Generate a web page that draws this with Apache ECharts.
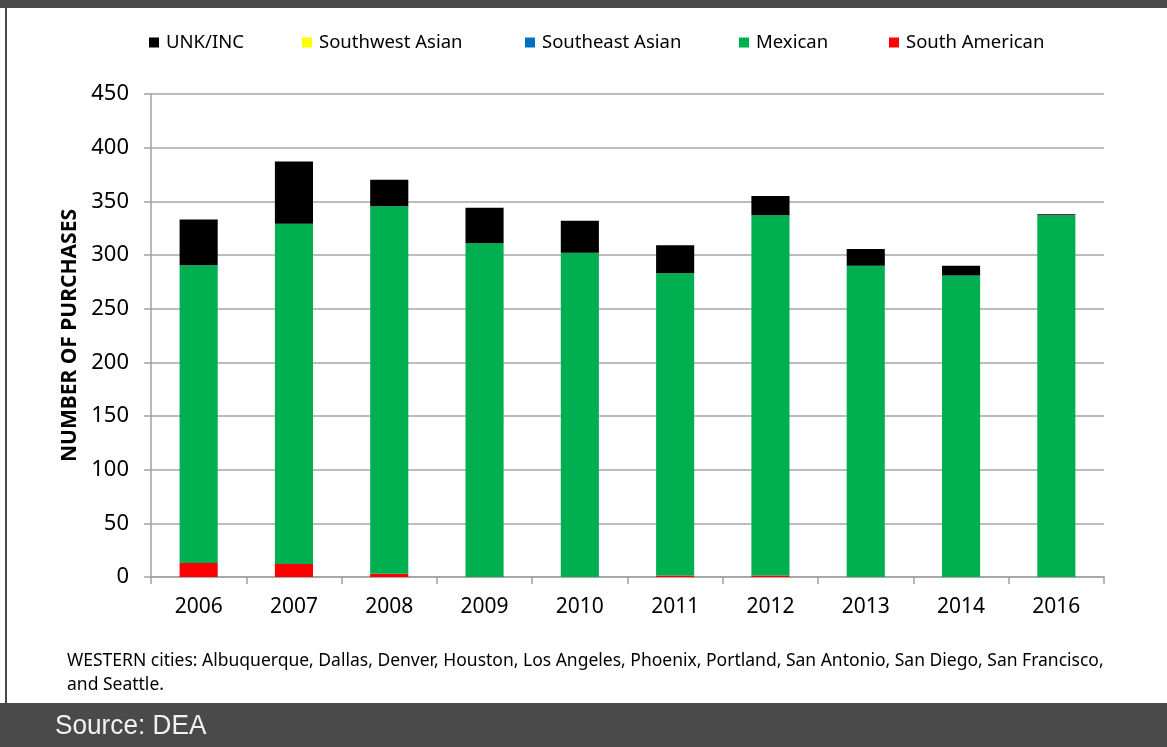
<!DOCTYPE html>
<html><head><meta charset="utf-8">
<script src="https://cdn.jsdelivr.net/npm/echarts@6/dist/echarts.min.js"></script>
<style>html,body{margin:0;padding:0;background:#fff;}#c{width:1167px;height:747px;}</style>
</head><body><div id="c"></div>
<script>
const years = ['2006','2007','2008','2009','2010','2011','2012','2013','2014','2016'];
const southAmerican = [13, 12, 3, 0, 0, 1.5, 1.5, 0, 0, 0];
const mexican = [277.5, 317, 342.5, 311, 302, 281.5, 335.5, 290, 281, 337];
const southeastAsian = [0, 0, 0, 0, 0, 0, 0, 0, 0, 0];
const southwestAsian = [0, 0, 0, 0, 0, 0, 0, 0, 0, 0];
const unkInc = [42.5, 58, 24.5, 33, 30, 26, 18, 15.5, 9, 1];
const yTicks = {min: 0, max: 450, interval: 50};
const footnote1 = 'WESTERN cities: Albuquerque, Dallas, Denver, Houston, Los Angeles, Phoenix, Portland, San Antonio, San Diego, San Francisco,';
const footnote2 = 'and Seattle.';
const sourceText = 'Source: DEA';

const FONT = '"Noto Sans", sans-serif';
const chart = echarts.init(document.getElementById('c'), null, {renderer: 'canvas'});

function mk(name, data, color) {
  return {name, type: 'bar', stack: 'tot', data, barWidth: '40%',
    itemStyle: {color}, emphasis: {disabled: true}};
}
function lg(name, left) {
  return {data: [name], left, top: 28, itemWidth: 10, itemHeight: 10, itemGap: 0,
    icon: 'rect', textStyle: {fontFamily: FONT, fontSize: 18.5, color: '#000', padding: [0,0,0,2]},
    selectedMode: false};
}
chart.setOption({
  animation: false,
  backgroundColor: '#fff',
  legend: [lg('UNK/INC', 144), lg('Southwest Asian', 297), lg('Southeast Asian', 520), lg('Mexican', 734), lg('South American', 884)],
  grid: {left: 151, right: 63, top: 94, bottom: 170, containLabel: false},
  xAxis: {type: 'category', data: years,
    axisLine: {lineStyle: {color: '#a0a0a0', width: 1.5}},
    axisTick: {show: true, length: 7, lineStyle: {color: '#a0a0a0', width: 1.5}},
    axisLabel: {fontFamily: FONT, fontSize: 21, color: '#000', margin: 20}},
  yAxis: {type: 'value', min: yTicks.min, max: yTicks.max, interval: yTicks.interval,
    name: 'NUMBER OF PURCHASES', nameLocation: 'middle', nameGap: 70,
    nameTextStyle: {fontFamily: FONT, fontSize: 21, fontWeight: 'bold', color: '#000'},
    axisLine: {show: true, lineStyle: {color: '#a0a0a0', width: 1.5}},
    axisTick: {show: true, length: 7, lineStyle: {color: '#a0a0a0', width: 1.5}},
    splitLine: {lineStyle: {color: '#a6a6a6', width: 1.5}},
    axisLabel: {fontFamily: FONT, fontSize: 22, color: '#000', margin: 22}},
  series: [
    mk('South American', southAmerican, '#ff0000'),
    mk('Mexican', mexican, '#00b050'),
    mk('Southeast Asian', southeastAsian, '#0070c0'),
    mk('Southwest Asian', southwestAsian, '#ffff00'),
    mk('UNK/INC', unkInc, '#000000')
  ],
  graphic: [
    {type: 'rect', left: 0, top: 0, shape: {width: 1167, height: 8}, style: {fill: '#4a4a4a'}, silent: true},
    {type: 'rect', left: 5, top: 0, shape: {width: 2, height: 747}, style: {fill: '#4a4a4a'}, silent: true},
    {type: 'rect', left: 0, top: 703, shape: {width: 1167, height: 44}, style: {fill: '#4a4a4a'}, silent: true},
    {type: 'text', x: 55, y: 713, scaleX: 0.97, style: {text: sourceText, fill: '#f2f2f2', font: '27px "Liberation Sans", Arial, sans-serif'}, silent: true},
    {type: 'text', left: 67, top: 652, style: {text: footnote1, fill: '#000', font: '17.5px ' + FONT}, silent: true},
    {type: 'text', left: 67, top: 676, style: {text: footnote2, fill: '#000', font: '17.5px ' + FONT}, silent: true}
  ]
});
</script></body></html>
